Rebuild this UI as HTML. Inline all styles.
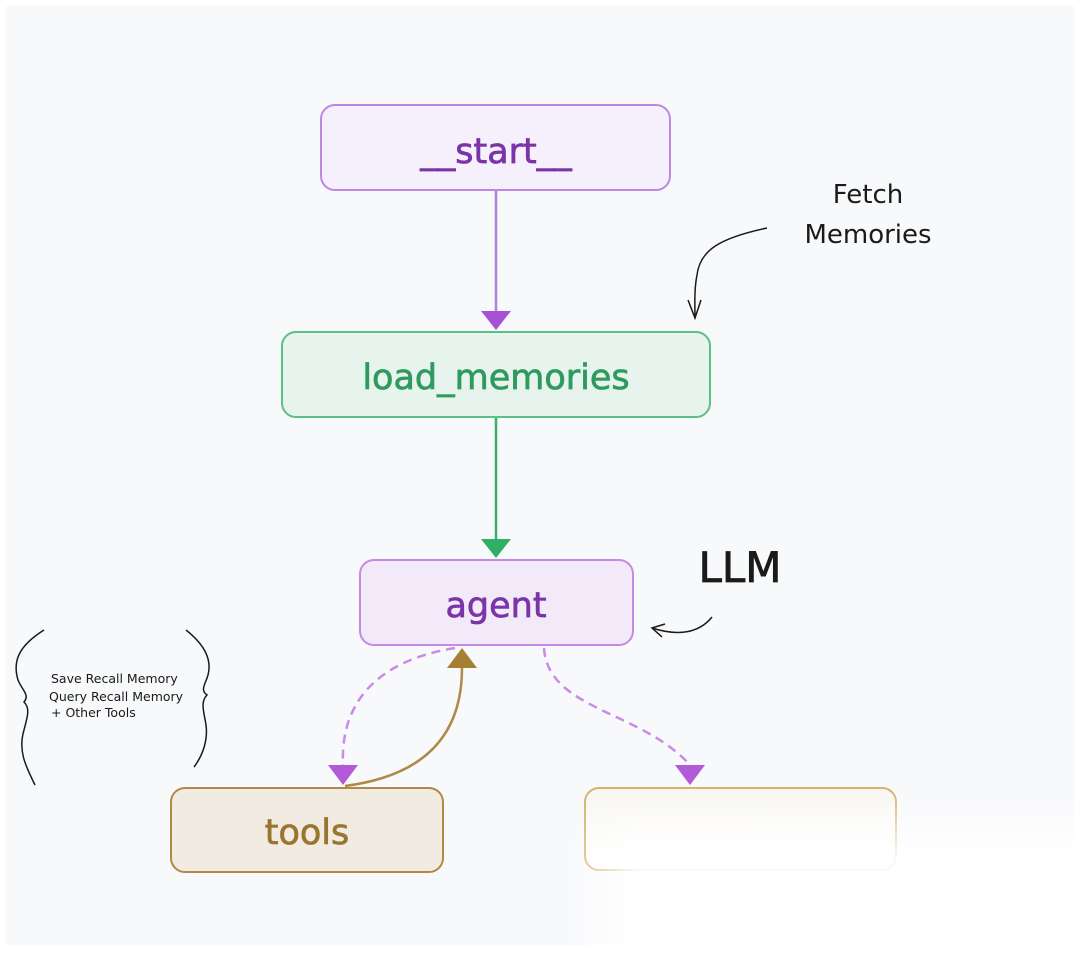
<!DOCTYPE html>
<html><head><meta charset="utf-8"><style>
html,body{margin:0;padding:0;background:#fff;}
svg{display:block;}
</style></head><body>
<svg width="1080" height="953" viewBox="0 0 1080 953" xmlns="http://www.w3.org/2000/svg">
<defs>
<linearGradient id="fade" x1="0" y1="0" x2="0" y2="1">
<stop offset="0" stop-color="#f8f6f1"/><stop offset="1" stop-color="#ffffff"/>
</linearGradient>
<linearGradient id="wv" x1="0" y1="0" x2="0" y2="1">
<stop offset="0" stop-color="#ffffff" stop-opacity="0"/><stop offset="0.4" stop-color="#ffffff" stop-opacity="0.9"/><stop offset="1" stop-color="#ffffff" stop-opacity="1"/>
</linearGradient>
<linearGradient id="wh" x1="0" y1="0" x2="1" y2="0">
<stop offset="0" stop-color="#ffffff" stop-opacity="0"/><stop offset="0.15" stop-color="#ffffff" stop-opacity="1"/>
</linearGradient>
<mask id="m"><rect x="560" y="790" width="520" height="163" fill="url(#wh)"/></mask>
</defs>
<rect x="6" y="6" width="1068" height="939" fill="#f8f9fb"/>

<!-- edges -->
<line x1="496" y1="191" x2="496" y2="312" stroke="#b77ee0" stroke-width="2.5"/>
<polygon points="481,311 511,311 496,330" fill="#a552d8"/>
<line x1="496" y1="418" x2="496" y2="540" stroke="#3dae6c" stroke-width="2.5"/>
<polygon points="481,539 511,539 496,558" fill="#2fb064"/>

<path d="M455,648 C380,660 340,700 343,765" fill="none" stroke="#c98ae8" stroke-width="2.5" stroke-dasharray="9,6"/>
<polygon points="328,765 358,765 343,785" fill="#b35ad8"/>
<path d="M345,786 C430,775 462,730 462,668" fill="none" stroke="#ad8a48" stroke-width="2.5"/>
<polygon points="447,668 477,668 462,648" fill="#a58034"/>
<path d="M544,648 C548,710 640,710 690,765" fill="none" stroke="#c98ae8" stroke-width="2.5" stroke-dasharray="9,6"/>
<polygon points="675,765 705,765 690,785" fill="#b35ad8"/>

<!-- nodes -->
<g font-family="DejaVu Sans, Liberation Sans, sans-serif" font-size="35" text-anchor="middle" stroke-width="0.7">
<rect x="321" y="105" width="349" height="85" rx="14" fill="#f5f0fb" stroke="#bd86e2" stroke-width="2"/>
<text x="496" y="163" fill="#7a33a8" stroke="#7a33a8">__start__</text>
<rect x="282" y="332" width="428" height="85" rx="14" fill="#e7f3ed" stroke="#5cbf84" stroke-width="2"/>
<text x="496" y="389" fill="#2f9a5e" stroke="#2f9a5e">load_memories</text>
<rect x="360" y="560" width="273" height="85" rx="14" fill="#f2e9f9" stroke="#c68ae6" stroke-width="2"/>
<text x="496" y="617" fill="#7a35a8" stroke="#7a35a8">agent</text>
<rect x="171" y="788" width="272" height="84" rx="14" fill="#f1ebe1" stroke="#b08a45" stroke-width="2"/>
<text x="307" y="844" fill="#9a7530" stroke="#9a7530">tools</text>
</g>
<rect x="585" y="788" width="311" height="82" rx="14" fill="url(#fade)" stroke="#d6b36e" stroke-width="2"/>
<rect x="560" y="790" width="520" height="163" fill="url(#wv)" mask="url(#m)"/>

<!-- annotations -->
<text x="868" y="203" text-anchor="middle" font-family="DejaVu Sans, sans-serif" font-size="26" fill="#1a1a1a">Fetch</text>
<text x="868" y="243" text-anchor="middle" font-family="DejaVu Sans, sans-serif" font-size="26" fill="#1a1a1a">Memories</text>
<path d="M767,228 C720,238 700,250 697,275 C694,290 695,305 695,318" fill="none" stroke="#1a1a1a" stroke-width="1.5"/>
<path d="M688,300 L695,318 L701,300" fill="none" stroke="#1a1a1a" stroke-width="1.5"/>
<text x="740" y="582" text-anchor="middle" font-family="DejaVu Sans, sans-serif" font-size="42" fill="#1a1a1a" stroke="#1a1a1a" stroke-width="0.8">LLM</text>
<path d="M712,617 C700,632 680,637 652,628" fill="none" stroke="#1a1a1a" stroke-width="1.5"/>
<path d="M665,624 L652,628 L662,637" fill="none" stroke="#1a1a1a" stroke-width="1.5"/>

<text x="51" y="683" font-family="DejaVu Sans, sans-serif" font-size="12.5" fill="#1a1a1a">Save Recall Memory</text>
<text x="49" y="701" font-family="DejaVu Sans, sans-serif" font-size="12.5" fill="#1a1a1a">Query Recall Memory</text>
<text x="51" y="717" font-family="DejaVu Sans, sans-serif" font-size="12.5" fill="#1a1a1a">+ Other Tools</text>
<path d="M44,630 C20,645 12,660 18,680 C22,690 30,695 24,702 C30,708 28,715 24,730 C18,750 25,765 35,785" fill="none" stroke="#1a1a1a" stroke-width="1.5"/>
<path d="M186,630 C205,645 212,660 208,675 C205,685 200,690 207,695 C200,702 204,712 206,725 C208,740 203,755 194,767" fill="none" stroke="#1a1a1a" stroke-width="1.5"/>
</svg>
</body></html>
